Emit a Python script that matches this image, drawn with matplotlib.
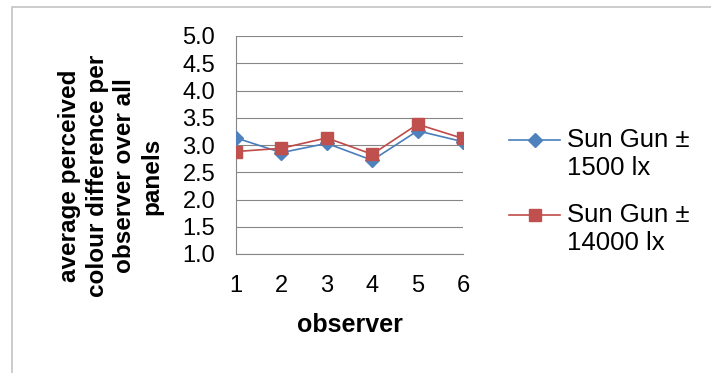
import numpy as np
import matplotlib.pyplot as plt
from matplotlib.legend_handler import HandlerLine2D
from matplotlib.patches import Rectangle

plt.rcParams['font.family'] = ['Liberation Sans', 'DejaVu Sans']

observers = [1, 2, 3, 4, 5, 6]
sun_1500 = [3.13, 2.86, 3.03, 2.72, 3.26, 3.06]
sun_14000 = [2.88, 2.94, 3.13, 2.83, 3.38, 3.12]
yticks = [1.0, 1.5, 2.0, 2.5, 3.0, 3.5, 4.0, 4.5, 5.0]


# legend handle on the first text line, like Excel does
class TopLineHandler(HandlerLine2D):
    def create_artists(self, legend, orig_handle, xdescent, ydescent, width, height, fontsize, trans):
        return super().create_artists(legend, orig_handle, xdescent, ydescent - 21,
                                      width, height, fontsize, trans)


fig = plt.figure(figsize=(7.11, 3.73), dpi=100)
ax = fig.add_axes([236/711, 1 - 254/373, 227/711, 218/373])

# chart area border (cropped)
fig.patches.append(Rectangle((12/711, -0.1), 1.2, 1 - 7/373 + 0.1, transform=fig.transFigure,
                             fill=False, edgecolor='#c4c4c4', linewidth=1.2))

l1, = ax.plot(observers, sun_1500, color='#4a7ebb', lw=1.2, marker='D', ms=7.5,
              mfc='#4f81bd', mec='#4f81bd', label='Sun Gun ±\n1500 lx', zorder=3)
l2, = ax.plot(observers, sun_14000, color='#be4b48', lw=1.2, marker='s', ms=9,
              mfc='#c0504d', mec='#c0504d', label='Sun Gun ±\n14000 lx', zorder=4)

ax.set_xlim(1, 6)
ax.set_ylim(1, 5)
ax.set_xticks(observers)
ax.set_yticks(yticks)
ax.set_yticklabels(['%.1f' % v for v in yticks])
ax.tick_params(length=0, pad=15, labelsize=17, colors='#000000')
ax.yaxis.grid(True, color='#868686', lw=0.8)
ax.set_axisbelow(True)
for s in ['top', 'right']:
    ax.spines[s].set_visible(False)
for s in ['left', 'bottom']:
    ax.spines[s].set_color('#868686')
    ax.spines[s].set_linewidth(0.8)

ax.set_xlabel('observer', fontsize=18, fontweight='bold', labelpad=12)
fig.text(111/711, 1 - 176/373, 'average perceived\ncolour difference per\nobserver over all\npanels',
         rotation=90, ha='center', va='center', fontsize=17.5, fontweight='bold',
         linespacing=1.25, multialignment='center')

fig.legend(handles=[l1, l2], loc='upper left', bbox_to_anchor=(509/711, 1 - 128/373),
           frameon=False, fontsize=18.5, handlelength=2.0, handletextpad=0.25,
           labelspacing=0.9, borderpad=0, borderaxespad=0,
           handler_map={l1: TopLineHandler(), l2: TopLineHandler()})

fig.savefig('out.png', dpi=100)
